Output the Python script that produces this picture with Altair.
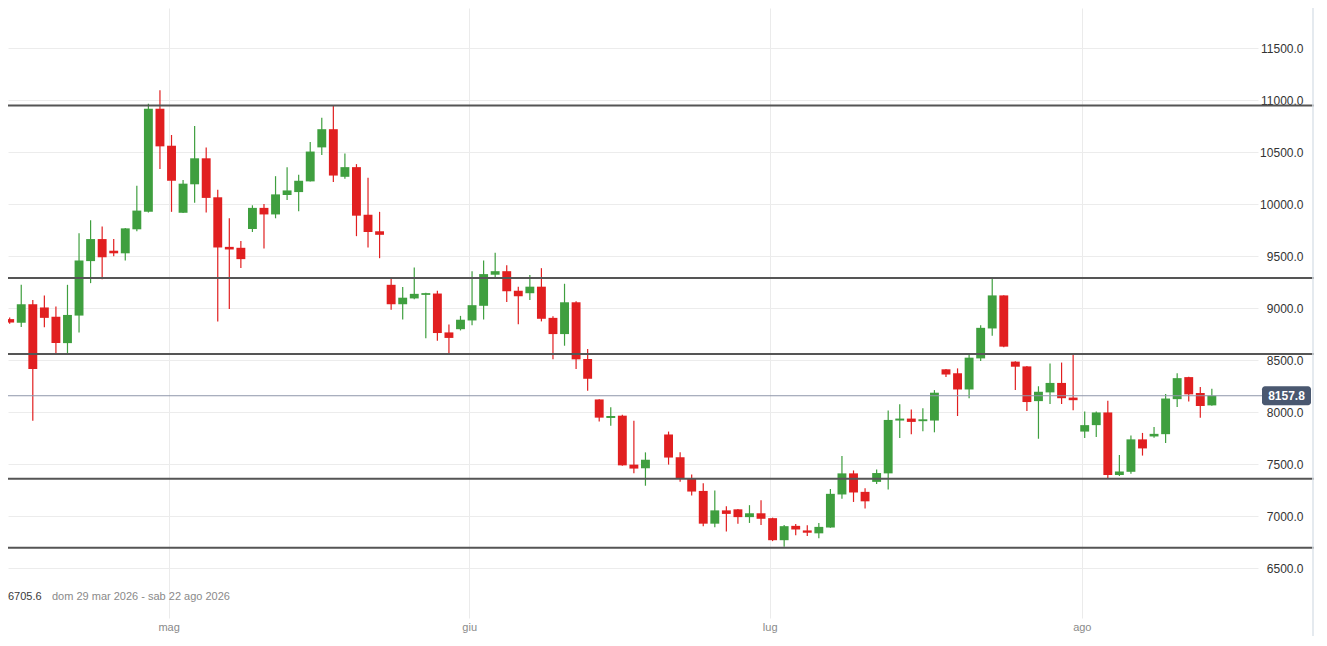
import altair as alt
import pandas as pd

# ---------------- data ----------------
dates = [
    "2026-04-15", "2026-04-16", "2026-04-17", "2026-04-18", "2026-04-20", "2026-04-21",
    "2026-04-22", "2026-04-23", "2026-04-24", "2026-04-25", "2026-04-27", "2026-04-28",
    "2026-04-29", "2026-04-30", "2026-05-01", "2026-05-02", "2026-05-04", "2026-05-05",
    "2026-05-06", "2026-05-07", "2026-05-08", "2026-05-09", "2026-05-11", "2026-05-12",
    "2026-05-13", "2026-05-14", "2026-05-15", "2026-05-16", "2026-05-18", "2026-05-19",
    "2026-05-20", "2026-05-21", "2026-05-22", "2026-05-23", "2026-05-25", "2026-05-26",
    "2026-05-27", "2026-05-28", "2026-05-29", "2026-05-30", "2026-06-01", "2026-06-02",
    "2026-06-03", "2026-06-04", "2026-06-05", "2026-06-06", "2026-06-08", "2026-06-09",
    "2026-06-10", "2026-06-11", "2026-06-12", "2026-06-13", "2026-06-15", "2026-06-16",
    "2026-06-17", "2026-06-18", "2026-06-20", "2026-06-22", "2026-06-23", "2026-06-24",
    "2026-06-25", "2026-06-26", "2026-06-27", "2026-06-29", "2026-06-30", "2026-07-01",
    "2026-07-02", "2026-07-03", "2026-07-04", "2026-07-06", "2026-07-07", "2026-07-08",
    "2026-07-09", "2026-07-10", "2026-07-11", "2026-07-13", "2026-07-14", "2026-07-15",
    "2026-07-16", "2026-07-17", "2026-07-18", "2026-07-20", "2026-07-21", "2026-07-22",
    "2026-07-23", "2026-07-24", "2026-07-25", "2026-07-27", "2026-07-28", "2026-07-29",
    "2026-07-30", "2026-07-31", "2026-08-01", "2026-08-03", "2026-08-04", "2026-08-05",
    "2026-08-06", "2026-08-07", "2026-08-08", "2026-08-10", "2026-08-11", "2026-08-12",
    "2026-08-13", "2026-08-14",
]
opens = [
    8895, 8861, 9038, 9007, 8917, 8664, 8929, 9453, 9665, 9553, 9528, 9759,
    9927, 10919, 10563, 9918, 10192, 10442, 10067, 9590, 9581, 9762, 9965, 9902,
    10089, 10117, 10220, 10547, 10722, 10264, 10357, 9899, 9740, 9225, 9038, 9094,
    9128, 9141, 8767, 8798, 8882, 9023, 9322, 9356, 9169, 9144, 9207, 8907,
    8751, 9057, 8511, 8122, 7944, 7966, 7495, 7460, 7785, 7566, 7364, 7242,
    6927, 7055, 7065, 6990, 7027, 6980, 6768, 6906, 6862, 6834, 6890, 7208,
    7411, 7233, 7329, 7411, 7919, 7938, 7913, 7919, 8412, 8374, 8218, 8517,
    8805, 9123, 8486, 8440, 8106, 8190, 8281, 8140, 7813, 7875, 7997, 7395,
    7426, 7738, 7766, 7788, 8125, 8337, 8184, 8065,
]
highs = [
    8910, 9225, 9079, 9123, 9017, 9225, 9721, 9846, 9787, 9665, 9771, 10177,
    10966, 11097, 10666, 10233, 10753, 10545, 10139, 9865, 9646, 9990, 10002, 10270,
    10357, 10283, 10598, 10832, 10950, 10488, 10386, 10255, 9927, 9297, 9204, 9391,
    9148, 9169, 8842, 8926, 9356, 9459, 9534, 9413, 9207, 9319, 9385, 8923,
    9235, 9066, 8608, 8125, 8047, 7975, 7916, 7613, 7813, 7613, 7401, 7317,
    7245, 7095, 7068, 7105, 7152, 6985, 6915, 6924, 6912, 6934, 7261, 7579,
    7439, 7267, 7448, 8016, 8075, 8025, 8037, 8212, 8415, 8421, 8555, 8835,
    9288, 9125, 8490, 8445, 8249, 8468, 8477, 8561, 8006, 8006, 8109, 7588,
    7775, 7800, 7857, 8175, 8374, 8340, 8243, 8225,
]
lows = [
    8850, 8820, 7916, 8817, 8555, 8568, 8767, 9241, 9279, 9500, 9459, 9740,
    9920, 10339, 9927, 9915, 10014, 9921, 8873, 8992, 9387, 9733, 9575, 9865,
    10042, 9933, 10220, 10473, 10214, 10245, 9693, 9584, 9481, 8985, 8892, 9085,
    8711, 8686, 8568, 8786, 8835, 8892, 9284, 9060, 8845, 9079, 8873, 8508,
    8639, 8415, 8206, 7909, 7869, 7485, 7413, 7292, 7495, 7330, 7199, 6903,
    6893, 6852, 6927, 6934, 6915, 6759, 6705.6, 6815, 6809, 6787, 6887, 7167,
    7136, 7074, 7308, 7255, 7750, 7788, 7816, 7806, 8337, 7963, 8134, 8493,
    8736, 8625, 8212, 8012, 7744, 8078, 8078, 8019, 7750, 7760, 7361, 7385,
    7408, 7582, 7754, 7704, 8050, 8103, 7947, 8062,
]
closes = [
    8862, 9038, 8415, 8907, 8664, 8935, 9459, 9665, 9490, 9528, 9768, 9939,
    10919, 10557, 10226, 10198, 10442, 10061, 9584, 9565, 9472, 9965, 9902, 10095,
    10133, 10226, 10507, 10722, 10276, 10357, 9890, 9733, 9706, 9038, 9101, 9138,
    9145, 8761, 8714, 8889, 9029, 9328, 9356, 9163, 9116, 9207, 8898, 8751,
    9057, 8508, 8321, 7947, 7963, 7488, 7457, 7542, 7563, 7361, 7236, 6927,
    7055, 7021, 6990, 7027, 6974, 6768, 6903, 6871, 6840, 6896, 7214, 7411,
    7227, 7142, 7414, 7925, 7938, 7906, 7931, 8187, 8362, 8218, 8524, 8811,
    9123, 8630, 8437, 8097, 8196, 8281, 8134, 8115, 7875, 7997, 7395, 7429,
    7738, 7651, 7791, 8131, 8327, 8171, 8059, 8157.8,
]

support_levels = [10950, 9290, 8560, 7360, 6695]
y_ticks = [6500, 7000, 7500, 8000, 8500, 9000, 9500, 10000, 10500, 11000, 11500]
month_labels = ["mag", "giu", "lug", "ago"]
month_starts = ["2026-05-01", "2026-06-01", "2026-07-01", "2026-08-01"]
last_price = 8157.8
low_text = "6705.6"
range_text = "dom 29 mar 2026 - sab 22 ago 2026"

# ---------------- layout ----------------
PW, PH = 1250, 610          # plot area
TOTAL_W, TOTAL_H = 1311, 628
GREEN = "#3f9f3f"
RED = "#e11f20"
FONT = "Liberation Sans"

start = pd.Timestamp(dates[0])


def slot(d):
    """Position on a Monday-Saturday trading axis (Sundays removed)."""
    rng = pd.date_range(start, pd.Timestamp(d), freq="D")
    return int((rng.dayofweek != 6).sum()) - 1


df = pd.DataFrame({
    "date": dates, "open": opens, "high": highs, "low": lows, "close": closes,
})
df["slot"] = [slot(d) for d in dates]
df["dir"] = ["up" if c >= o else "down" for o, c in zip(opens, closes)]

month_pos = [slot(d) - 0.25 for d in month_starts]
label_expr = " : ".join(
    f"abs(datum.value - {p}) < 0.01 ? '{lab}'" for p, lab in zip(month_pos, month_labels)
) + " : ''"

xscale = alt.Scale(domain=[0.287, 107.56], nice=False, zero=False)
yscale = alt.Scale(domain=[6019.5, 11888], nice=False, zero=False)
color = alt.Color("dir:N", scale=alt.Scale(domain=["up", "down"], range=[GREEN, RED]), legend=None)

x_axis = alt.Axis(
    values=month_pos, labelExpr=label_expr, title=None, grid=True, gridColor="#ebebeb",
    ticks=False, tickSize=0, domain=False, labelColor="#8a8a8a", labelFontSize=11,
    labelFont=FONT, labelPadding=3, labelBaseline="top",
)
y_axis = alt.Axis(
    values=y_ticks, format=".1f", orient="right", title=None, grid=True, gridColor="#ececec",
    ticks=False, tickSize=0, domain=False, labelColor="#333333", labelFontSize=12,
    labelFont=FONT, labelAlign="right", labelBaseline="middle", labelPadding=45,
)

# axis/grid carrier layer (drawn first, underneath everything)
axes_df = pd.DataFrame({"slot": [month_pos[0]], "val": [y_ticks[0]]})
axes_layer = alt.Chart(axes_df).mark_point(opacity=0).encode(
    x=alt.X("slot:Q", scale=xscale, axis=x_axis),
    y=alt.Y("val:Q", scale=yscale, axis=y_axis),
)

base = alt.Chart(df)

wicks = base.mark_rule(strokeWidth=1.2, clip=True).encode(
    x=alt.X("slot:Q", scale=xscale, axis=x_axis),
    y=alt.Y("low:Q", scale=yscale, axis=y_axis),
    y2="high:Q",
    color=color,
)
bodies = base.mark_bar(size=8.9, clip=True).encode(
    x=alt.X("slot:Q", scale=xscale, axis=x_axis),
    y=alt.Y("open:Q", scale=yscale, axis=y_axis),
    y2="close:Q",
    color=color,
)

sup_df = pd.DataFrame({"level": support_levels})
supports = alt.Chart(sup_df).mark_rule(color="#555555", strokeWidth=2).encode(
    y=alt.Y("level:Q", scale=yscale, axis=y_axis),
    x=alt.value(0), x2=alt.value(1306),
)

price_df = pd.DataFrame({"price": [last_price]})
price_df["top"] = price_df["price"] + 92
price_df["bottom"] = price_df["price"] - 92
price_df["label"] = [f"{last_price:.1f}"]

price_line = alt.Chart(price_df).mark_rule(color="#8f97aa", strokeWidth=1).encode(
    y=alt.Y("price:Q", scale=yscale, axis=y_axis),
    x=alt.value(0), x2=alt.value(1254),
)
price_box = alt.Chart(price_df).mark_rect(color="#4a5870", cornerRadius=3).encode(
    y=alt.Y("top:Q", scale=yscale, axis=y_axis),
    y2="bottom:Q",
    x=alt.value(1254), x2=alt.value(1303),
)
price_text = alt.Chart(price_df).mark_text(
    color="white", fontSize=12, fontWeight="bold", font=FONT, align="center", baseline="middle"
).encode(
    y=alt.Y("price:Q", scale=yscale, axis=y_axis),
    x=alt.value(1278.5),
    text="label:N",
)

edge = alt.Chart(price_df).mark_rule(color="#dde3ea", strokeWidth=1.5).encode(
    x=alt.value(1305), y=alt.value(0), y2=alt.value(TOTAL_H),
)

low_df = pd.DataFrame({"t": [low_text]})
low_lbl = alt.Chart(low_df).mark_text(
    color="#3a3a3a", fontSize=11, font=FONT, align="left", baseline="middle"
).encode(x=alt.value(0), y=alt.value(589), text="t:N")

range_df = pd.DataFrame({"t": [range_text]})
range_lbl = alt.Chart(range_df).mark_text(
    color="#8a8a8a", fontSize=11, font=FONT, align="left", baseline="middle"
).encode(x=alt.value(44), y=alt.value(589), text="t:N")

chart = alt.layer(
    axes_layer, wicks, bodies, supports, price_line, price_box, price_text, edge, low_lbl, range_lbl
).properties(
    width=PW, height=PH,
    padding={"left": 0, "top": 0, "right": TOTAL_W - PW, "bottom": TOTAL_H - PH},
    autosize=alt.AutoSizeParams(type="none"),
    background="white",
).configure_view(stroke=None)

chart.save("out.html", embed_options={"renderer": "svg", "actions": False})
